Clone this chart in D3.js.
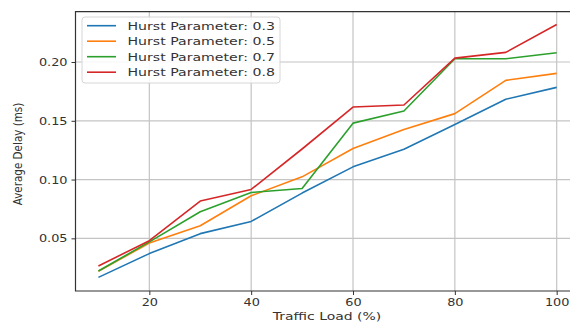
<!DOCTYPE html>
<html>
<head>
<meta charset="utf-8">
<script src="https://cdn.jsdelivr.net/npm/d3@7"></script>
<style>
  html, body { margin: 0; padding: 0; background: #fff; }
  svg { display: block; font-family: "DejaVu Sans", sans-serif; }
</style>
</head>
<body>
<div id="chart"></div>
<script>
// Traffic load (%) on x, average delay (ms) per Hurst parameter
const loads = [10, 20, 30, 40, 50, 60, 70, 80, 90, 100]
const hurst03 = [0.0168, 0.0370, 0.0540, 0.0644, 0.0885, 0.1108, 0.1258, 0.1468, 0.1683, 0.1784]
const hurst05 = [0.0220, 0.0460, 0.0607, 0.0862, 0.1023, 0.1264, 0.1425, 0.1561, 0.1844, 0.1903]
const hurst07 = [0.0222, 0.0470, 0.0726, 0.0890, 0.0924, 0.1480, 0.1583, 0.2028, 0.2028, 0.2079]
const hurst08 = [0.0265, 0.0480, 0.0817, 0.0916, 0.1260, 0.1617, 0.1634, 0.2033, 0.2082, 0.2319]
const seriesNames = ["Hurst Parameter: 0.3", "Hurst Parameter: 0.5", "Hurst Parameter: 0.7", "Hurst Parameter: 0.8"]
const xTicks = [20, 40, 60, 80, 100]
const yTicks = [0.05, 0.10, 0.15, 0.20]

const COLORS = ["#1f77b4", "#ff7f0e", "#2ca02c", "#d62728"]
const STRETCH = 1.26   // the reference is stretched sideways

const W = 570, H = 323
const plot = { left: 75.5, right: 579.6, top: 11.7, bottom: 291 }

const svg = d3.select("#chart").append("svg")
  .attr("width", W).attr("height", H)

const x = d3.scaleLinear().domain([5.5, 104.5]).range([plot.left, plot.right])
const y = d3.scaleLinear().domain([0.0052, 0.2428]).range([plot.bottom, plot.top])

// Grid
svg.append("g").selectAll("line")
  .data(xTicks).join("line")
  .attr("x1", d => x(d)).attr("x2", d => x(d))
  .attr("y1", plot.top).attr("y2", plot.bottom)
  .attr("stroke", "#c4c4c4").attr("stroke-width", 1.2)
svg.append("g").selectAll("line")
  .data(yTicks).join("line")
  .attr("x1", plot.left).attr("x2", plot.right)
  .attr("y1", d => y(d)).attr("y2", d => y(d))
  .attr("stroke", "#c4c4c4").attr("stroke-width", 1.2)

// Series
const series = [hurst03, hurst05, hurst07, hurst08]
const line = d3.line().x((d, i) => x(loads[i])).y(d => y(d))
svg.append("g").selectAll("path")
  .data(series).join("path")
  .attr("d", d => line(d))
  .attr("fill", "none")
  .attr("stroke", (d, i) => COLORS[i])
  .attr("stroke-width", 1.6)
  .attr("stroke-linejoin", "round")

// Axes with stretched labels
const xAxis = svg.append("g")
  .attr("transform", `translate(0,${plot.bottom})`)
  .call(d3.axisBottom(x).tickValues(xTicks).tickSize(4).tickPadding(3).tickFormat(d3.format("d")))
const yAxis = svg.append("g")
  .attr("transform", `translate(${plot.left},0)`)
  .call(d3.axisLeft(y).tickValues(yTicks).tickSize(4).tickPadding(4).tickFormat(d3.format(".2f")))

;[xAxis, yAxis].forEach(a => {
  a.select(".domain").remove()
  a.selectAll(".tick line").attr("stroke", "#333")
  a.selectAll(".tick text")
    .attr("fill", "#333")
    .attr("font-size", 10.2)
    .attr("font-family", "DejaVu Sans")
})
xAxis.selectAll(".tick text").attr("dy", null).attr("y", 15.5)
  .attr("transform", `scale(${STRETCH},1)`)
  .attr("x", 0)
yAxis.selectAll(".tick text").each(function() {
  const t = d3.select(this)
  t.attr("x", null).attr("dy", "0.34em")
    .attr("transform", `translate(-8,0) scale(${STRETCH},1)`)
})

// Frame
svg.append("path")
  .attr("d", `M${plot.left},${plot.bottom}V${plot.top}H${plot.right}V${plot.bottom}Z`)
  .attr("fill", "none").attr("stroke", "#333").attr("stroke-width", 1.2)

// Axis labels
svg.append("text")
  .attr("transform", `translate(327,320) scale(${STRETCH},1)`)
  .attr("text-anchor", "middle")
  .attr("font-size", 11.1).attr("fill", "#333")
  .text("Traffic Load (%)")
svg.append("text")
  .attr("transform", `translate(22,154) scale(${STRETCH},1) rotate(-90)`)
  .attr("text-anchor", "middle")
  .attr("font-size", 10.4).attr("fill", "#333")
  .text("Average Delay (ms)")

// Legend
const legend = svg.append("g")
legend.append("rect")
  .attr("x", 82).attr("y", 17).attr("width", 198).attr("height", 66)
  .attr("rx", 3).attr("fill", "#fff").attr("fill-opacity", 0.85)
  .attr("stroke", "#d6d6d6").attr("stroke-width", 1)
const rows = legend.selectAll("g.row")
  .data(seriesNames).join("g")
  .attr("class", "row")
  .attr("transform", (d, i) => `translate(0,${25.7 + i * 15.5})`)
rows.append("line")
  .attr("x1", 87).attr("x2", 116)
  .attr("stroke", (d, i) => COLORS[i]).attr("stroke-width", 1.6)
rows.append("text")
  .attr("transform", `translate(127.5,0) scale(${STRETCH},1)`)
  .attr("dy", "0.36em")
  .attr("font-size", 11.2).attr("fill", "#333")
  .text(d => d)
</script>
</body>
</html>
